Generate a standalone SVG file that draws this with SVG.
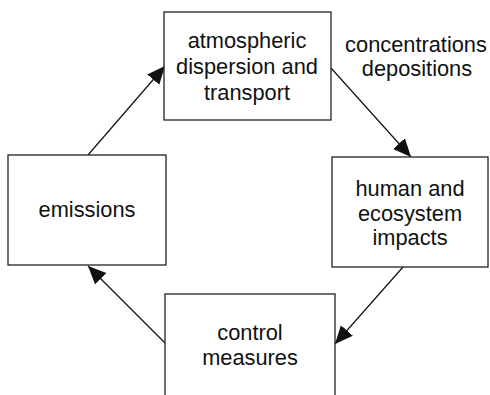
<svg xmlns="http://www.w3.org/2000/svg" width="490" height="395" viewBox="0 0 490 395">
<style>
.box{fill:#fff;stroke:#222;stroke-width:1.3}
.t{font-family:"Liberation Sans",Arial,sans-serif;font-size:21.8px;fill:#111;text-anchor:middle}
.c{stroke:#111;stroke-width:1.2;fill:none;marker-end:url(#ah)}
</style>
<defs>
<marker id="ah" markerUnits="userSpaceOnUse" markerWidth="20" markerHeight="18" refX="18" refY="8" orient="auto">
<path d="M0,0 L18,8 L0,16 Z" fill="#111"/>
</marker>
</defs>
<rect width="490" height="395" fill="#fff"/>
<g id="connectors">
<line class="c" x1="88" y1="155" x2="165" y2="66"/>
<line class="c" x1="331" y1="68" x2="411" y2="157"/>
<line class="c" x1="403" y1="267" x2="335" y2="344"/>
<line class="c" x1="165" y1="343" x2="88" y2="266"/>
</g>
<g id="atmospheric">
<rect class="box" x="164" y="12" width="167" height="108"/>
<text class="t" x="247" y="48">atmospheric</text>
<text class="t" x="247" y="74">dispersion and</text>
<text class="t" x="247" y="100">transport</text>
</g>
<g id="impacts">
<rect class="box" x="332" y="157" width="156" height="110"/>
<text class="t" x="410" y="196">human and</text>
<text class="t" x="410" y="221">ecosystem</text>
<text class="t" x="410" y="245">impacts</text>
</g>
<g id="control">
<rect class="box" x="165" y="294" width="170" height="120"/>
<text class="t" x="250" y="340">control</text>
<text class="t" x="250" y="365">measures</text>
</g>
<g id="emissions">
<rect class="box" x="8" y="155" width="158" height="110"/>
<text class="t" x="87" y="217">emissions</text>
</g>
<g id="label">
<text class="t" x="416" y="52">concentrations</text>
<text class="t" x="417" y="76">depositions</text>
</g>
</svg>
